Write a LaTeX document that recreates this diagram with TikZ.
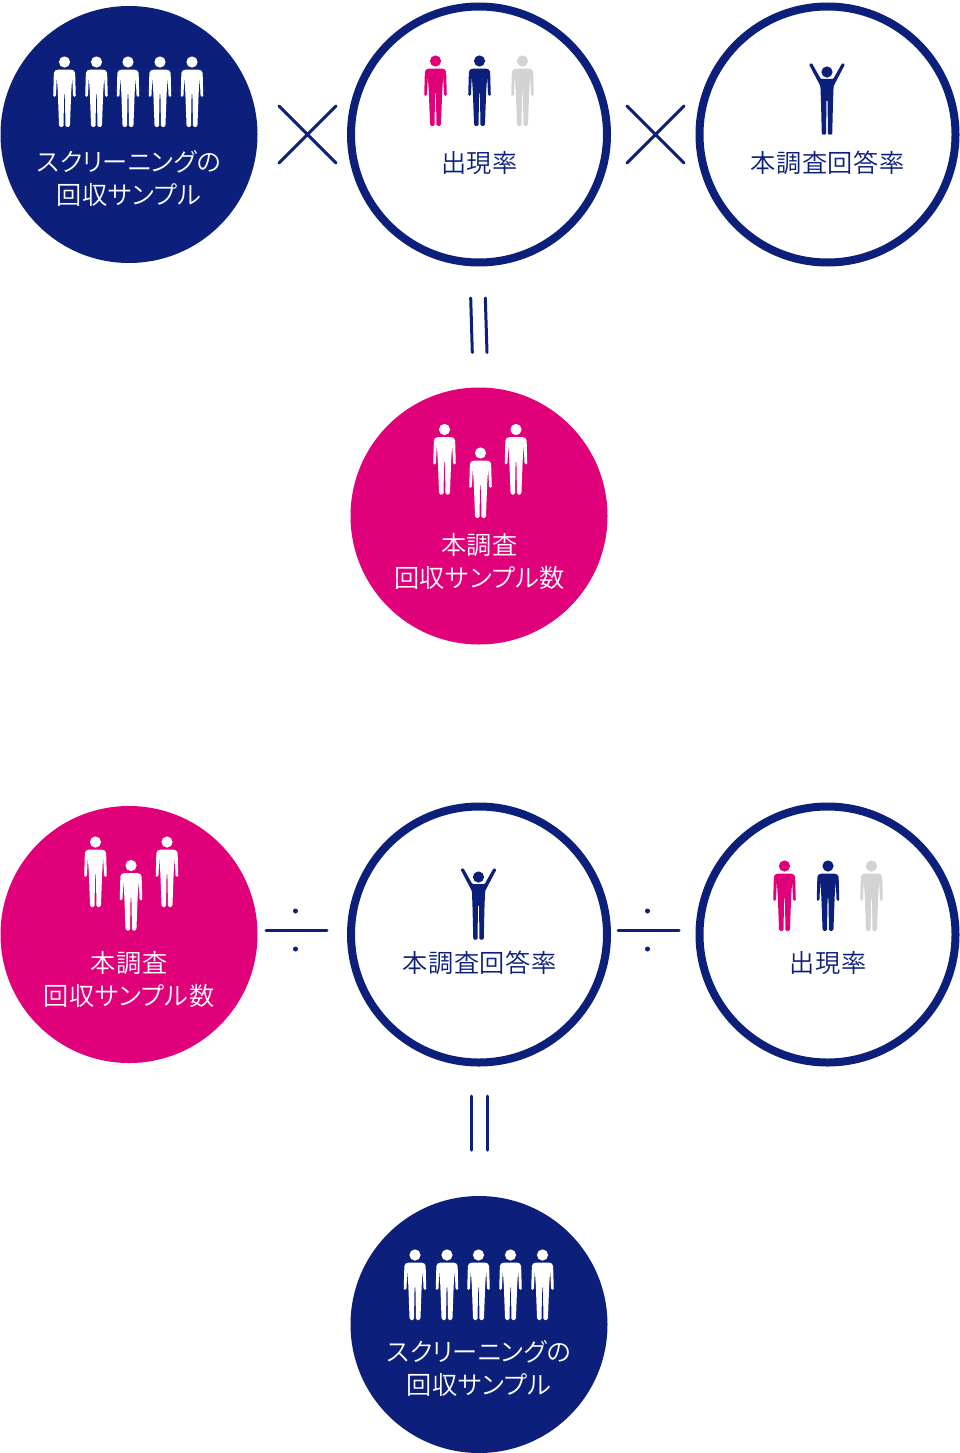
\documentclass[tikz,border=0pt]{standalone}
\usepackage{fontspec}
\newfontfamily\cjk{Noto Sans CJK JP DemiLight}[RawFeature=+palt]
\newfontfamily\cjkwide{Noto Sans CJK JP DemiLight}[RawFeature=+palt, LetterSpace=2]
\definecolor{navy}{HTML}{0C1F7A}
\definecolor{rosa}{HTML}{E0007A}
\definecolor{lightgrey}{HTML}{D3D3D3}
\tikzset{
  navydisc/.style={circle, fill=navy, minimum size=257, inner sep=0},
  rosadisc/.style={circle, fill=rosa, minimum size=257, inner sep=0},
  ringdisc/.style={circle, draw=navy, line width=8, minimum size=256, inner sep=0},
  lbl/.style={align=center, inner sep=0, font=\cjk\fontsize{25.2}{33}\selectfont},
  opline/.style={navy, line width=3, line cap=round},
  person/.pic={
    \path[pic actions] (0,0) circle (5.6);
    \path[pic actions, rounded corners=1.5] (-8,7.6) -- (8,7.6) -- (10.6,9.5) -- (11.3,35) -- (8.6,35) -- (7.7,15) -- (6.7,30) -- (5.4,65) -- (1,65) -- (0.4,31) -- (-0.4,31) -- (-1,65) -- (-5.4,65) -- (-6.7,30) -- (-7.7,15) -- (-8.6,35) -- (-11.3,35) -- (-10.6,9.5) -- cycle;
  },
  cheer/.pic={
    \path[pic actions] (0,0) circle (5.6);
    \path[pic actions, rounded corners=1] (-6.2,7) -- (-1,7) -- (1,7) -- (6.2,7) -- (15.2,-9) -- (18,-7.6) -- (6.6,14) -- (6,30) -- (5.2,62.6) -- (1,62.6) -- (0.5,28) -- (-0.5,28) -- (-1,62.6) -- (-5.2,62.6) -- (-6,30) -- (-6.6,14) -- (-18,-7.6) -- (-15.2,-9) -- cycle;
  },
}
\begin{document}
\begin{tikzpicture}[x=1pt, y=-1pt]
  \useasboundingbox (0,0) rectangle (960,1453);
  % Upper row
  \node[navydisc] (screenA) at (129,134.5) {};
  \node[ringdisc] (rateA) at (479,134.5) {};
  \node[ringdisc] (replyA) at (827.5,134.5) {};
  \node[rosadisc] (mainA) at (479,516) {};
  \foreach \x in {64.5,96.5,128,160,192}
    \pic[fill=white] at (\x,62) {person};
  \pic[fill=rosa] at (435.5,61) {person};
  \pic[fill=navy] at (479.5,61) {person};
  \pic[fill=lightgrey] at (522.5,61) {person};
  \pic[fill=navy] at (827,72) {cheer};
  \pic[fill=white] at (444.5,429.5) {person};
  \pic[fill=white] at (480.5,453) {person};
  \pic[fill=white] at (516,429.5) {person};
  \node[lbl, white] (screenAtxt) at (129,178.5) {スクリーニングの\\{\cjkwide 回収サンプル}};
  \node[lbl, navy] (rateAtxt) at (479.5,162.5) {\cjkwide 出現率};
  \node[lbl, navy] (replyAtxt) at (827.5,162.5) {\cjkwide 本調査回答率};
  \node[lbl, white] (mainAtxt) at (479.5,561) {\cjkwide 本調査\\\cjkwide 回収サンプル数};
  % Times
  \draw[opline] (279,106) -- (336,163) (336,106) -- (279,163);
  \draw[opline] (627,106) -- (684,163) (684,106) -- (627,163);
  % Equals
  \draw[opline] (470.7,298) -- (472.3,352.5) (485.3,298) -- (487,352.5);
  % Lower row
  \node[rosadisc] (mainB) at (129,934.5) {};
  \node[ringdisc] (replyB) at (479,934.5) {};
  \node[ringdisc] (rateB) at (827.5,934.5) {};
  \node[navydisc] (screenB) at (479,1324.5) {};
  \pic[fill=white] at (95.5,842) {person};
  \pic[fill=white] at (131,865.5) {person};
  \pic[fill=white] at (167,842) {person};
  \pic[fill=navy] at (478.5,877) {cheer};
  \pic[fill=rosa] at (784.5,866) {person};
  \pic[fill=navy] at (828,866) {person};
  \pic[fill=lightgrey] at (871.5,866) {person};
  \foreach \x in {415,447,478.5,510.5,542.5}
    \pic[fill=white] at (\x,1255) {person};
  \node[lbl, white] (mainBtxt) at (129,979) {\cjkwide 本調査\\\cjkwide 回収サンプル数};
  \node[lbl, navy] (replyBtxt) at (479.5,962.5) {\cjkwide 本調査回答率};
  \node[lbl, navy] (rateBtxt) at (828,962.5) {\cjkwide 出現率};
  \node[lbl, white] (screenBtxt) at (479,1368.5) {スクリーニングの\\{\cjkwide 回収サンプル}};
  % Divide
  \draw[opline] (266,930) -- (327,930);
  \fill[navy] (295.5,911) circle (2.5) (295.5,949) circle (2.5);
  \draw[opline] (618,930) -- (679,930);
  \fill[navy] (647.5,911) circle (2.5) (647.5,949) circle (2.5);
  % Equals
  \draw[opline] (471,1096) -- (471,1150) (487,1096) -- (487,1150);
\end{tikzpicture}
\end{document}
